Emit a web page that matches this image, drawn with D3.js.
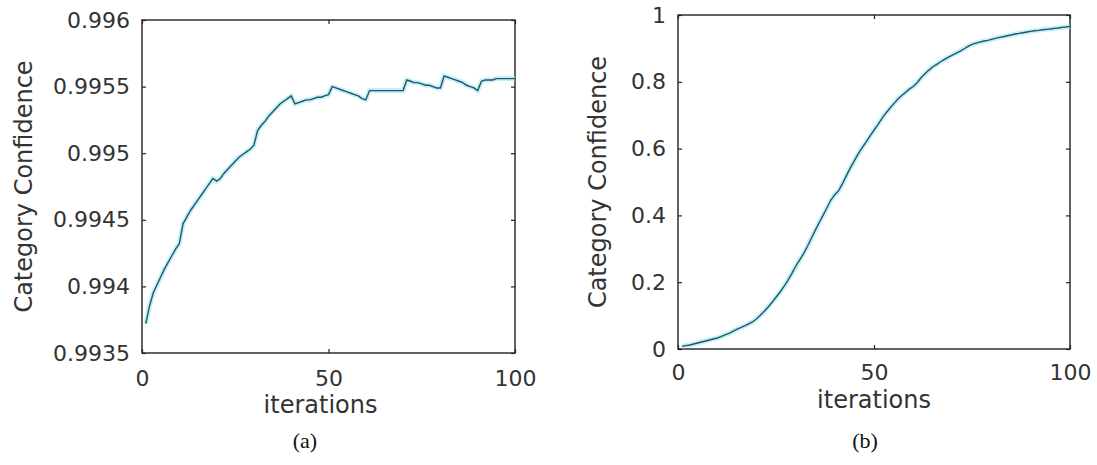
<!DOCTYPE html>
<html>
<head>
<meta charset="utf-8">
<script src="https://cdn.jsdelivr.net/npm/d3@7"></script>
<style>
    body { margin: 0; background: #fff; }
    svg { display: block; }
    .tick text { font-family: "DejaVu Sans", sans-serif; font-size: 22px; fill: #333; }
    .axis-label { font-family: "DejaVu Sans", sans-serif; font-size: 24px; fill: #333; }
    .caption { font-family: "Liberation Serif", serif; font-size: 22px; fill: #111; }
</style>
</head>
<body>
<svg id="chart" width="1097" height="465"></svg>
<script>
// iterations 1..100
const iterations = d3.range(1, 101);

// (a) confidence
const confidenceA = [
    0.99372, 0.99385, 0.99395, 0.99401, 0.99407, 0.99413, 0.99418, 0.99423, 0.99428, 0.99432,
    0.99447, 0.99452, 0.99457, 0.99461, 0.99465, 0.99469, 0.99473, 0.99477, 0.99481, 0.99479,
    0.99481, 0.99485, 0.99488, 0.99491, 0.99494, 0.99497, 0.99499, 0.99501, 0.99503, 0.99506,
    0.99517, 0.99521, 0.99524, 0.99528, 0.99531, 0.99534, 0.99537, 0.99539, 0.99541, 0.99543,
    0.99537, 0.99538, 0.99539, 0.99540, 0.99540, 0.99541, 0.99542, 0.99542, 0.99543, 0.99544,
    0.99550, 0.99549, 0.99548, 0.99547, 0.99546, 0.99545, 0.99544, 0.99543, 0.99541, 0.99540,
    0.99547, 0.99547, 0.99547, 0.99547, 0.99547, 0.99547, 0.99547, 0.99547, 0.99547, 0.99547,
    0.99555, 0.99554, 0.99553, 0.99553, 0.99552, 0.99551, 0.99551, 0.99550, 0.99549, 0.99549,
    0.99558, 0.99557, 0.99556, 0.99555, 0.99554, 0.99553, 0.99551, 0.99550, 0.99549, 0.99547,
    0.99554, 0.99555, 0.99555, 0.99555, 0.99556, 0.99556, 0.99556, 0.99556, 0.99556, 0.99556
];

// (b) confidence
const confidenceB = [
    0.008, 0.010, 0.012, 0.015, 0.018, 0.021, 0.024, 0.027, 0.030, 0.033,
    0.037, 0.042, 0.047, 0.053, 0.059, 0.064, 0.069, 0.075, 0.081, 0.090,
    0.101, 0.113, 0.126, 0.140, 0.155, 0.170, 0.187, 0.205, 0.225, 0.247,
    0.266, 0.285, 0.307, 0.331, 0.355, 0.378, 0.400, 0.423, 0.446, 0.462,
    0.474, 0.496, 0.520, 0.543, 0.564, 0.585, 0.603, 0.620, 0.638, 0.655,
    0.672, 0.690, 0.706, 0.720, 0.734, 0.747, 0.758, 0.768, 0.778, 0.786,
    0.797, 0.812, 0.824, 0.835, 0.845, 0.852, 0.860, 0.867, 0.874, 0.880,
    0.886, 0.892, 0.899, 0.906, 0.912, 0.916, 0.919, 0.922, 0.924, 0.927,
    0.930, 0.933, 0.935, 0.938, 0.940, 0.943, 0.945, 0.947, 0.949, 0.951,
    0.953, 0.954, 0.956, 0.957, 0.958, 0.960, 0.961, 0.963, 0.964, 0.966
];

const xTicks = [0, 50, 100];
const yTicksA = [0.9935, 0.994, 0.9945, 0.995, 0.9955, 0.996];
const yTicksB = [0, 0.2, 0.4, 0.6, 0.8, 1];
const yLabelA = ['0.9935', '0.994', '0.9945', '0.995', '0.9955', '0.996'];
const yLabelB = ['0', '0.2', '0.4', '0.6', '0.8', '1'];

const svg = d3.select('#chart');

function drawPanel(cfg) {
    const width = cfg.right - cfg.left;
    const height = cfg.bottom - cfg.top;

    const g = svg.append('g')
        .attr('transform', `translate(${cfg.left},${cfg.top})`);

    const xScale = d3.scaleLinear().domain([0, 100]).range([0, width]);
    const yScale = d3.scaleLinear().domain(cfg.yDomain).range([height, 0]);

    // plot box
    g.append('rect')
        .attr('width', width)
        .attr('height', height)
        .attr('fill', 'none')
        .attr('stroke', '#222')
        .attr('stroke-width', 1.4);

    const xAxis = d3.axisBottom(xScale).tickValues(xTicks).tickSize(-4).tickPadding(cfg.xPad);
    const yAxis = d3.axisLeft(yScale).tickValues(cfg.yTicks).tickSize(-4).tickPadding(12)
        .tickFormat((d, i) => cfg.yLabels[i]);

    const xg = g.append('g').attr('transform', `translate(0,${height})`).call(xAxis);
    const yg = g.append('g').call(yAxis);
    // mirrored inward ticks on top/right
    const xt = g.append('g').call(d3.axisTop(xScale).tickValues(xTicks).tickSize(-4).tickFormat(''));
    const yr = g.append('g').attr('transform', `translate(${width},0)`)
        .call(d3.axisRight(yScale).tickValues(cfg.yTicks).tickSize(-4).tickFormat(''));

    [xg, yg, xt, yr].forEach(a => {
        a.select('.domain').remove();
        a.selectAll('.tick line').attr('stroke', '#222').attr('stroke-width', 1.2);
    });
    xg.selectAll('.tick text').attr('dy', '0.35em').attr('y', cfg.xPad);

    const line = d3.line()
        .x((d, i) => xScale(iterations[i]))
        .y(d => yScale(d));

    // soft cyan halo under the trace
    g.append('path')
        .datum(cfg.values)
        .attr('fill', 'none')
        .attr('stroke', '#9fe6f4')
        .attr('stroke-width', 5)
        .attr('stroke-opacity', 0.6)
        .attr('d', line);

    g.append('path')
        .datum(cfg.values)
        .attr('fill', 'none')
        .attr('stroke', '#1f5865')
        .attr('stroke-width', 1.4)
        .attr('d', line);

    svg.append('text')
        .attr('class', 'axis-label')
        .attr('text-anchor', 'middle')
        .attr('x', cfg.left + width / 2 + cfg.xLabelShift)
        .attr('y', cfg.xLabelY)
        .attr('dy', '0.35em')
        .text('iterations');

    svg.append('text')
        .attr('class', 'axis-label')
        .attr('text-anchor', 'middle')
        .attr('transform', `translate(${cfg.yLabelX},${cfg.top + height / 2}) rotate(-90)`)
        .attr('dy', '0.35em')
        .text('Category Confidence');

    svg.append('text')
        .attr('class', 'caption')
        .attr('text-anchor', 'middle')
        .attr('x', cfg.captionX)
        .attr('y', 440)
        .attr('dy', '0.35em')
        .text(cfg.caption);
}

drawPanel({
    left: 142, right: 515, top: 20, bottom: 353,
    yDomain: [0.9935, 0.996], yTicks: yTicksA, yLabels: yLabelA,
    values: confidenceA, xPad: 25, xLabelY: 405, xLabelShift: -8,
    yLabelX: 24, caption: '(a)', captionX: 305
});

drawPanel({
    left: 678, right: 1070, top: 15, bottom: 349,
    yDomain: [0, 1], yTicks: yTicksB, yLabels: yLabelB,
    values: confidenceB, xPad: 23, xLabelY: 400, xLabelShift: 0,
    yLabelX: 598, caption: '(b)', captionX: 865
});
</script>
</body>
</html>
